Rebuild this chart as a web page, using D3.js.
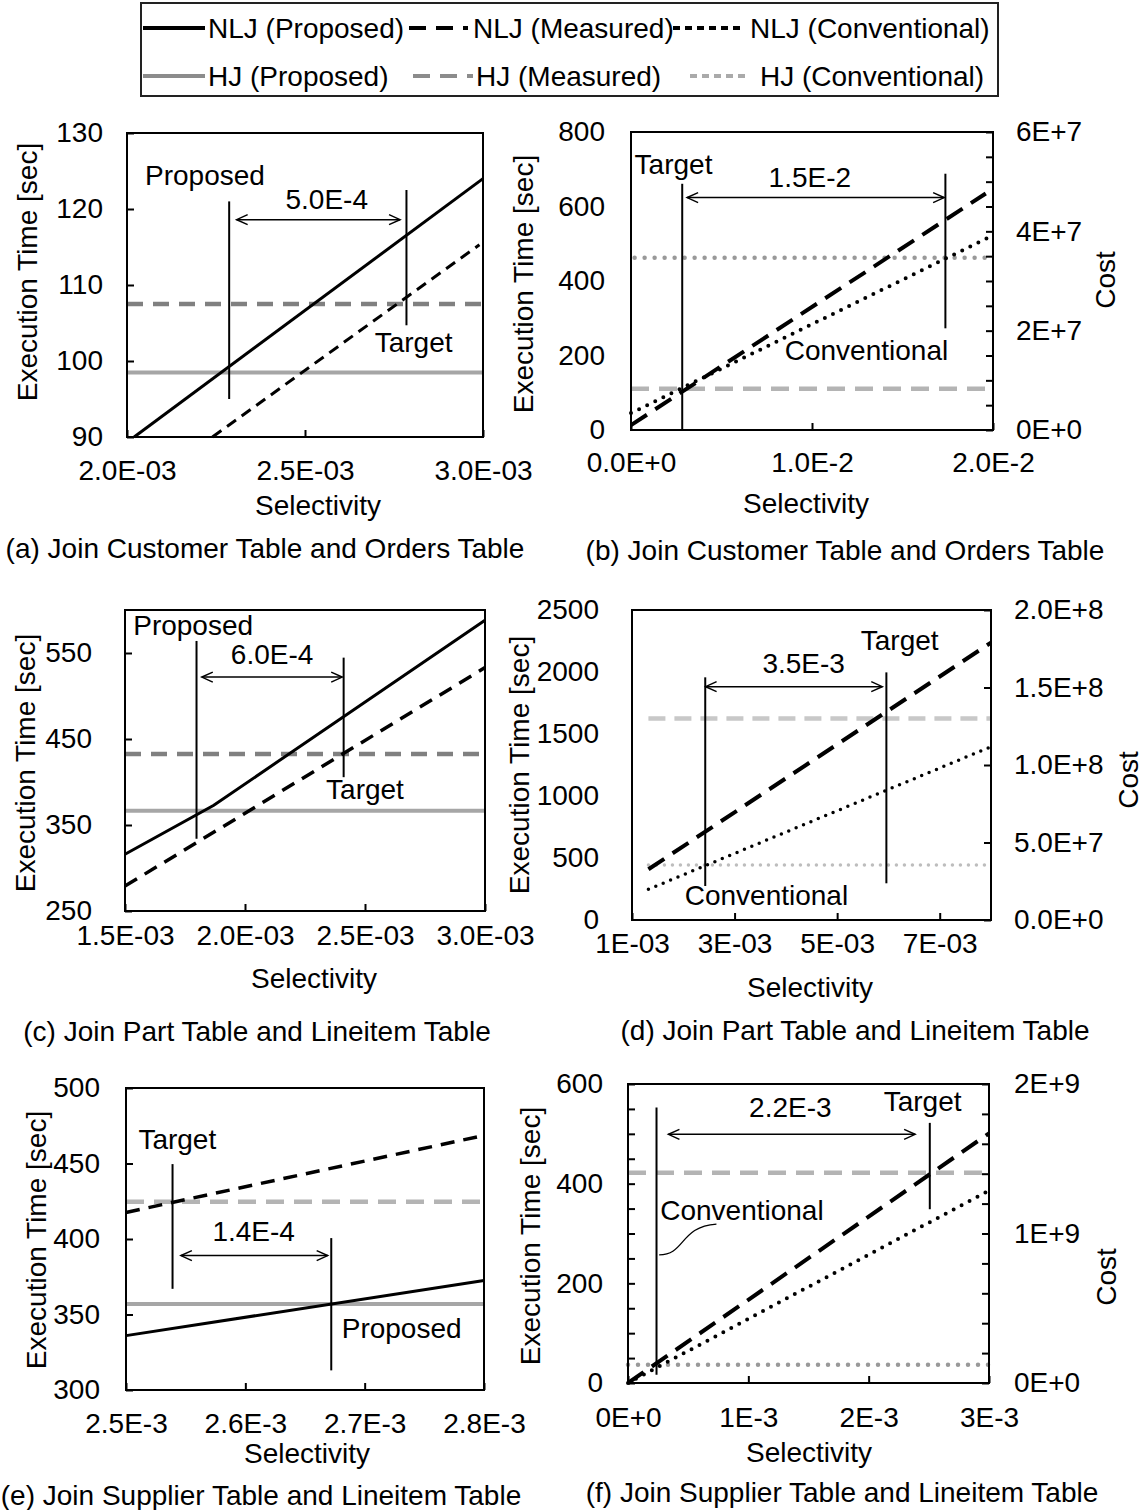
<!DOCTYPE html>
<html>
<head>
<meta charset="utf-8">
<title>join selectivity</title>
<script src="https://d3js.org/d3.v7.min.js"></script>
<style>
body { margin: 0; background: #fff; }
svg { display: block; font-family: 'Liberation Sans', Arial, sans-serif; }
</style>
</head>
<body>
<svg id="chart" width="1148" height="1510"></svg>
<script>
// ---- values ----
var legendLabels = ["NLJ (Proposed)", "NLJ (Measured)", "NLJ (Conventional)",
                    "HJ (Proposed)", "HJ (Measured)", "HJ (Conventional)"];
var captions = ["(a) Join Customer Table and Orders Table", "(b) Join Customer Table and Orders Table",
                "(c) Join Part Table and Lineitem Table", "(d) Join Part Table and Lineitem Table",
                "(e) Join Supplier Table and Lineitem Table", "(f) Join Supplier Table and Lineitem Table"];

var xDomains = [[0.002, 0.003], [0, 0.02], [0.0015, 0.003], [0.001, 0.008], [0.0025, 0.0028], [0, 0.003]];
var yDomains = [[90, 130], [0, 800], [250, 600], [0, 2500], [300, 500], [0, 600]];
var costDomains = [null, [0, 6e7], null, [0, 2e8], null, [0, 2e9]];

var xTicks = [[0.002, 0.0025, 0.003], [0, 0.01, 0.02], [0.0015, 0.002, 0.0025, 0.003],
              [0.001, 0.003, 0.005, 0.007], [0.0025, 0.0026, 0.0027, 0.0028], [0, 0.001, 0.002, 0.003]];
var xTickLabels = [["2.0E-03", "2.5E-03", "3.0E-03"], ["0.0E+0", "1.0E-2", "2.0E-2"],
                   ["1.5E-03", "2.0E-03", "2.5E-03", "3.0E-03"], ["1E-03", "3E-03", "5E-03", "7E-03"],
                   ["2.5E-3", "2.6E-3", "2.7E-3", "2.8E-3"], ["0E+0", "1E-3", "2E-3", "3E-3"]];
var yTicks = [[90, 100, 110, 120, 130], [0, 200, 400, 600, 800], [250, 350, 450, 550],
              [0, 500, 1000, 1500, 2000, 2500], [300, 350, 400, 450, 500],
              [0, 50, 100, 150, 200, 250, 300, 350, 400, 450, 500, 550, 600]];
var yTickLabels = [["90", "100", "110", "120", "130"], ["0", "200", "400", "600", "800"],
                   ["250", "350", "450", "550"], ["0", "500", "1000", "1500", "2000", "2500"],
                   ["300", "350", "400", "450", "500"],
                   ["0", "", "", "", "200", "", "", "", "400", "", "", "", "600"]];
var costTicks = [null, [0, 5e6, 1e7, 1.5e7, 2e7, 2.5e7, 3e7, 3.5e7, 4e7, 4.5e7, 5e7, 5.5e7, 6e7], null,
                 [0, 5e7, 1e8, 1.5e8, 2e8], null,
                 [0, 2e8, 4e8, 6e8, 8e8, 1e9, 1.2e9, 1.4e9, 1.6e9, 1.8e9, 2e9]];
var costTickLabels = [null, ["0E+0", "", "", "", "2E+7", "", "", "", "4E+7", "", "", "", "6E+7"], null,
                      ["0.0E+0", "5.0E+7", "1.0E+8", "1.5E+8", "2.0E+8"], null,
                      ["0E+0", "", "", "", "", "1E+9", "", "", "", "", "2E+9"]];

// series as [selectivity, time] (Conventional ones are [selectivity, cost])
var nljPropA = [[0.00202, 90], [0.003, 124]];
var nljMeasA = [[0.00224, 90], [0.00299, 115.3]];
var hjMeasA = [[0.002, 107.5], [0.003, 107.5]];
var hjPropA = [[0.002, 98.5], [0.003, 98.5]];

var nljMeasB = [[0, 13], [0.0196, 635]];
var nljConvB = [[0, 3.4e6], [0.02, 3.92e7]];
var hjMeasB = [[0, 111], [0.02, 111]];
var hjConvB = [[0.0002, 3.47e7], [0.02, 3.47e7]];

var nljPropC = [[0.0015, 316], [0.00187, 373], [0.003, 588]];
var nljMeasC = [[0.0015, 279], [0.003, 533]];
var hjMeasC = [[0.0015, 432.5], [0.003, 432.5]];
var hjPropC = [[0.0015, 366.7], [0.003, 366.7]];

var nljMeasD = [[0.00132, 409], [0.008, 2237]];
var nljConvD = [[0.00132, 1.98e7], [0.008, 1.118e8]];
var hjMeasD = [[0.00132, 1626], [0.008, 1626]];
var hjConvD = [[0.00132, 3.55e7], [0.008, 3.55e7]];

var nljMeasE = [[0.0025, 417.6], [0.0028, 468.6]];
var nljPropE = [[0.0025, 336], [0.0028, 372.5]];
var hjMeasE = [[0.0025, 424.6], [0.0028, 424.6]];
var hjPropE = [[0.0025, 357], [0.0028, 357]];

var nljMeasF = [[0, 0], [0.003, 501]];
var nljConvF = [[0, 0], [0.003, 1.287e9]];
var hjMeasF = [[0, 422], [0.003, 422]];
var hjConvF = [[0, 1.22e8], [0.003, 1.22e8]];

// annotations: marker lines [x, yFrom, yTo], span arrow [x0, x1, y], notes [text, x, y]
var markers = [[[0.002287, 95, 121], [0.002785, 104.7, 122.5]],
               [[0.00283, 0, 661], [0.01737, 273, 688]],
               [[0.001798, 334, 564], [0.002411, 405.6, 544.6]],
               [[0.002428, 274, 1957], [0.00596, 296, 1997]],
               [[0.002539, 367, 449.6], [0.002672, 313, 400.6]],
               [[0.000237, 16.7, 553], [0.002508, 348.7, 522]]];
var spans = [[0.002308, 0.002767, 118.6], [0.0031, 0.0173, 624], [0.00182, 0.002405, 522],
             [0.002435, 0.00588, 1882], [0.002546, 0.002669, 389], [0.000336, 0.002386, 499]];
var notes = [[["Proposed", 0.002219, 124.4], ["5.0E-4", 0.002561, 121.2], ["Target", 0.002805, 102.4]],
             [["Target", 0.00235, 713], ["1.5E-2", 0.00988, 677], ["Conventional", 0.01301, 213]],
             [["Proposed", 0.001784, 582], ["6.0E-4", 0.002113, 548], ["Target", 0.0025, 391.6]],
             [["3.5E-3", 0.004347, 2065], ["Target", 0.00622, 2253], ["Conventional", 0.003621, 194]],
             [["Target", 0.002543, 466], ["1.4E-4", 0.002607, 405], ["Proposed", 0.002731, 341]],
             [["2.2E-3", 0.001349, 553], ["Target", 0.002448, 564], ["Conventional", 0.000947, 346]]];
var leaderF = [[0.000259, 257], [0.000477, 257], [0.00043, 314], [0.000735, 319]];

// ---- layout ----
var boxes = [[127, 133, 483, 437], [631, 132, 993, 430], [125, 610, 485, 911],
             [632, 610, 991, 920], [126, 1088, 484, 1390], [628, 1084, 989, 1383]];
var yPad = [24, 26, 33, 33, 26, 25];
var leftTick = [7, 0, 7, 0, 7, 7];
var costPad = [0, 23, 0, 23, 0, 25];
var xPad = [23, 22, 14, 13, 23, 24];
var yTitlePos = [[27, 272], [523, 284], [25, 763], [519, 765], [36, 1240], [530, 1236]];
var costTitlePos = [null, [1105, 280], null, [1128, 780], null, [1106, 1277]];
var selPos = [[318, 505], [806, 503], [314, 978], [810, 987], [307, 1453], [809, 1452]];
var capPos = [[265, 548], [845, 550], [257, 1031], [855, 1030], [261, 1495], [842, 1492]];

var st = {
  nljProp:   { stroke: "#000", w: 3 },
  nljMeasS:  { stroke: "#000", w: 3, dash: "11,7" },
  nljMeasM:  { stroke: "#000", w: 3.5, dash: "14,9" },
  nljMeasL:  { stroke: "#000", w: 4, dash: "19,10" },
  nljConv:   { stroke: "#000", w: 4, dash: "0,9", cap: "round" },
  nljConvS:  { stroke: "#000", w: 3.5, dash: "0,8", cap: "round" },
  hjProp:    { stroke: "#a6a6a6", w: 4 },
  hjMeasDk:  { stroke: "#808080", w: 4.5, dash: "16,10" },
  hjMeasLt:  { stroke: "#b4b4b4", w: 4.5, dash: "18,10" },
  hjMeasLt2: { stroke: "#c8c8c8", w: 4.5, dash: "17,9" },
  hjConv:    { stroke: "#999", w: 4.5, dash: "0,10", cap: "round" },
  hjConvLt:  { stroke: "#bdbdbd", w: 3.5, dash: "0,8", cap: "round" }
};

// which series go in which panel (third item 1 = plotted against the cost axis)
var panelSeries = [
  [[hjMeasA, "hjMeasDk"], [hjPropA, "hjProp"], [nljMeasA, "nljMeasS"], [nljPropA, "nljProp"]],
  [[hjMeasB, "hjMeasLt"], [hjConvB, "hjConv", 1], [nljConvB, "nljConv", 1], [nljMeasB, "nljMeasL"]],
  [[hjMeasC, "hjMeasDk"], [hjPropC, "hjProp"], [nljMeasC, "nljMeasM"], [nljPropC, "nljProp"]],
  [[hjMeasD, "hjMeasLt2"], [hjConvD, "hjConvLt", 1], [nljConvD, "nljConvS", 1], [nljMeasD, "nljMeasL"]],
  [[hjMeasE, "hjMeasLt"], [hjPropE, "hjProp"], [nljMeasE, "nljMeasM"], [nljPropE, "nljProp"]],
  [[hjMeasF, "hjMeasLt"], [hjConvF, "hjConv", 1], [nljConvF, "nljConv", 1], [nljMeasF, "nljMeasL"]]
];

var svg = d3.select("#chart");
var FS = 28;

function styleAxis(g) {
  g.select(".domain").remove();
  g.attr("font-size", FS).attr("font-family", "'Liberation Sans', Arial, sans-serif");
  g.selectAll("line").attr("stroke", "#000").attr("stroke-width", 2);
  g.selectAll("text").attr("fill", "#000");
}

function drawPanel(p) {
  var b = boxes[p];
  var g = svg.append("g");
  var x = d3.scaleLinear().domain(xDomains[p]).range([b[0], b[2]]);
  var y = d3.scaleLinear().domain(yDomains[p]).range([b[3], b[1]]);
  var cost = costDomains[p] ? d3.scaleLinear().domain(costDomains[p]).range([b[3], b[1]]) : null;

  // series
  panelSeries[p].forEach(function (s) {
    var ys = s[2] ? cost : y;
    var sty = st[s[1]];
    var line = d3.line().x(function (d) { return x(d[0]); }).y(function (d) { return ys(d[1]); });
    g.append("path")
      .attr("d", line(s[0]))
      .attr("fill", "none")
      .attr("stroke", sty.stroke)
      .attr("stroke-width", sty.w)
      .attr("stroke-dasharray", sty.dash || null)
      .attr("stroke-linecap", sty.cap || "butt");
  });

  // axes
  g.append("g").attr("transform", "translate(" + b[0] + ",0)")
    .call(d3.axisLeft(y).tickValues(yTicks[p])
      .tickFormat(function (d, i) { return yTickLabels[p][i]; })
      .tickSizeInner(-leftTick[p]).tickSizeOuter(0).tickPadding(yPad[p]))
    .call(styleAxis);
  g.append("g").attr("transform", "translate(0," + b[3] + ")")
    .call(d3.axisBottom(x).tickValues(xTicks[p])
      .tickFormat(function (d, i) { return xTickLabels[p][i]; })
      .tickSizeInner(-7).tickSizeOuter(0).tickPadding(xPad[p]))
    .call(styleAxis);
  if (cost) {
    g.append("g").attr("transform", "translate(" + b[2] + ",0)")
      .call(d3.axisRight(cost).tickValues(costTicks[p])
        .tickFormat(function (d, i) { return costTickLabels[p][i]; })
        .tickSizeInner(-7).tickSizeOuter(0).tickPadding(costPad[p]))
      .call(styleAxis);
  }

  g.append("rect")
    .attr("x", b[0]).attr("y", b[1])
    .attr("width", b[2] - b[0]).attr("height", b[3] - b[1])
    .attr("fill", "none").attr("stroke", "#000").attr("stroke-width", 2);

  // markers
  markers[p].forEach(function (m) {
    g.append("line")
      .attr("x1", x(m[0])).attr("x2", x(m[0]))
      .attr("y1", y(m[1])).attr("y2", y(m[2]))
      .attr("stroke", "#000").attr("stroke-width", 2);
  });

  // double arrow
  var sp = spans[p];
  var ax0 = x(sp[0]), ax1 = x(sp[1]), ay = y(sp[2]);
  g.append("line").attr("x1", ax0).attr("x2", ax1).attr("y1", ay).attr("y2", ay)
    .attr("stroke", "#000").attr("stroke-width", 1.5);
  g.append("path")
    .attr("d", "M" + (ax0 + 11) + "," + (ay - 5) + "L" + ax0 + "," + ay + "L" + (ax0 + 11) + "," + (ay + 5) +
               "M" + (ax1 - 11) + "," + (ay - 5) + "L" + ax1 + "," + ay + "L" + (ax1 - 11) + "," + (ay + 5))
    .attr("fill", "none").attr("stroke", "#000").attr("stroke-width", 1.5);

  notes[p].forEach(function (n) {
    g.append("text").text(n[0])
      .attr("x", x(n[1])).attr("y", y(n[2]))
      .attr("text-anchor", "middle").attr("dominant-baseline", "central")
      .attr("font-size", FS);
  });

  if (p === 5) {
    var pts = leaderF.map(function (d) { return [x(d[0]), y(d[1])]; });
    var path = d3.path();
    path.moveTo(pts[0][0], pts[0][1]);
    path.bezierCurveTo(pts[1][0], pts[1][1], pts[2][0], pts[2][1], pts[3][0], pts[3][1]);
    g.append("path").attr("d", path.toString())
      .attr("fill", "none").attr("stroke", "#000").attr("stroke-width", 1.3);
  }

  // titles
  g.append("text").text("Execution Time [sec]")
    .attr("transform", "translate(" + yTitlePos[p][0] + "," + yTitlePos[p][1] + ") rotate(-90)")
    .attr("text-anchor", "middle").attr("dominant-baseline", "central")
    .attr("font-size", FS);
  if (cost) {
    g.append("text").text("Cost")
      .attr("transform", "translate(" + costTitlePos[p][0] + "," + costTitlePos[p][1] + ") rotate(-90)")
      .attr("text-anchor", "middle").attr("dominant-baseline", "central")
      .attr("font-size", FS);
  }
  g.append("text").text("Selectivity")
    .attr("x", selPos[p][0]).attr("y", selPos[p][1])
    .attr("text-anchor", "middle").attr("dominant-baseline", "central")
    .attr("font-size", FS);
  g.append("text").text(captions[p])
    .attr("x", capPos[p][0]).attr("y", capPos[p][1])
    .attr("text-anchor", "middle").attr("dominant-baseline", "central")
    .attr("font-size", FS);
}

for (var p = 0; p < 6; p++) drawPanel(p);

// ---- legend ----
var legendLineX = [[143, 205], [409, 468], [673, 740], [143, 205], [413, 473], [690, 747]];
var legendTextX = [208, 473, 750, 208, 476, 760];
var legendRowY = [28, 76];
var legendStyle = [
  { stroke: "#000", dash: null }, { stroke: "#000", dash: "17,10" }, { stroke: "#000", dash: "7,5" },
  { stroke: "#8c8c8c", dash: null }, { stroke: "#8c8c8c", dash: "17,10" }, { stroke: "#aaa", dash: "7,5" }
];

svg.append("rect")
  .attr("x", 141).attr("y", 3).attr("width", 857).attr("height", 93)
  .attr("fill", "none").attr("stroke", "#222").attr("stroke-width", 2);

legendLabels.forEach(function (lab, i) {
  var ly = legendRowY[Math.floor(i / 3)];
  svg.append("line")
    .attr("x1", legendLineX[i][0]).attr("x2", legendLineX[i][1])
    .attr("y1", ly).attr("y2", ly)
    .attr("stroke", legendStyle[i].stroke).attr("stroke-width", 4)
    .attr("stroke-dasharray", legendStyle[i].dash);
  svg.append("text").text(lab)
    .attr("x", legendTextX[i]).attr("y", ly)
    .attr("dominant-baseline", "central")
    .attr("font-size", FS);
});
</script>
</body>
</html>
